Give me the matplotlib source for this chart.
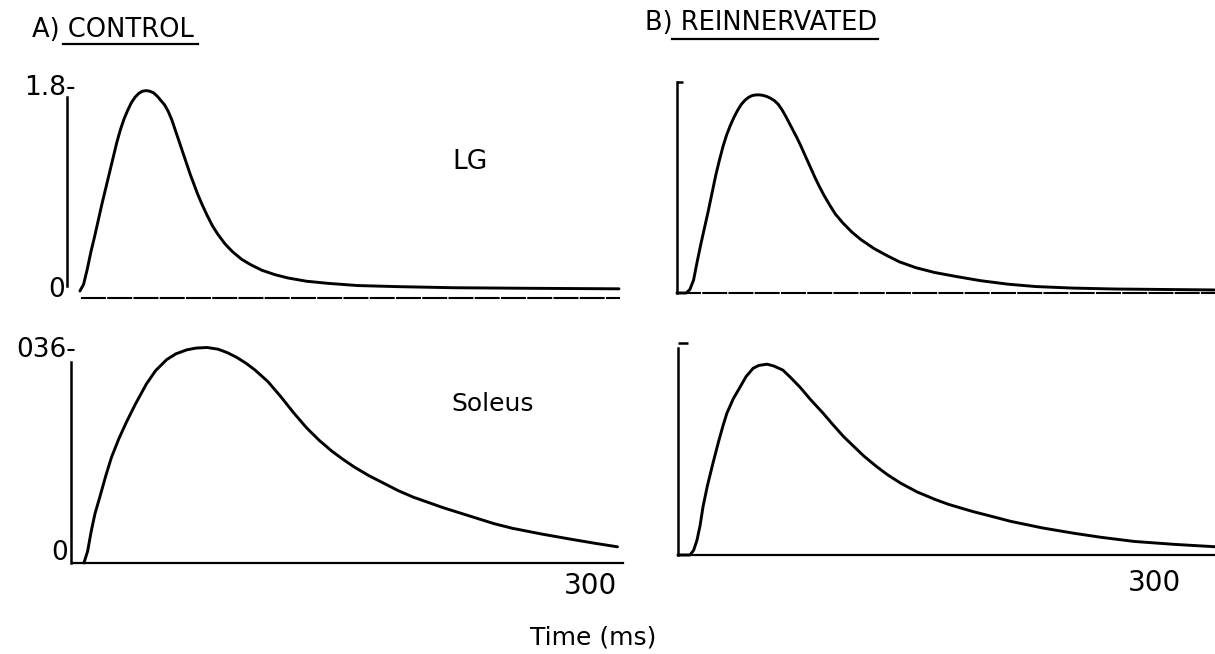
import matplotlib
matplotlib.use("Agg")
import matplotlib.pyplot as plt

# ---------------- data ----------------
# Time in ms, force in the panel's own units (LG bar = 1.8, soleus bar = 0.36)
lg_ctrl_t = [7, 9, 11, 13, 15, 17, 19, 21, 23, 25, 27, 29, 31, 33, 35, 37, 39, 41, 43, 45,
             47, 49, 51, 53, 55, 57, 59, 61, 63, 65, 67, 69, 71, 73, 76, 79, 82, 86, 90, 95,
             100, 106, 113, 120, 130, 142, 158, 180, 210, 250, 300]
lg_ctrl_f = [0.0, 0.06, 0.2, 0.36, 0.5, 0.65, 0.8, 0.94, 1.08, 1.22, 1.36, 1.48, 1.58, 1.66,
             1.73, 1.78, 1.815, 1.835, 1.84, 1.835, 1.82, 1.79, 1.75, 1.71, 1.65, 1.57, 1.47,
             1.37, 1.27, 1.17, 1.07, 0.98, 0.89, 0.81, 0.70, 0.60, 0.52, 0.43, 0.36, 0.29,
             0.24, 0.19, 0.15, 0.12, 0.09, 0.07, 0.05, 0.04, 0.03, 0.025, 0.02]

sol_ctrl_t = [7, 9, 11, 13, 16, 19, 22, 26, 30, 35, 41, 46, 52, 57, 63, 68, 74, 80, 85, 90,
              95, 100, 107, 114, 121, 128, 135, 142, 148, 154, 162, 170, 178, 186, 202, 218,
              230, 240, 256, 272, 285, 297]
sol_ctrl_f = [0.0, 0.02, 0.055, 0.085, 0.118, 0.152, 0.183, 0.215, 0.243, 0.275, 0.31, 0.333,
              0.352, 0.362, 0.369, 0.372, 0.373, 0.370, 0.364, 0.356, 0.346, 0.334, 0.314,
              0.288, 0.26, 0.234, 0.212, 0.193, 0.179, 0.166, 0.151, 0.138, 0.125, 0.114,
              0.096, 0.080, 0.068, 0.060, 0.050, 0.041, 0.034, 0.028]

lg_rein_t = [0, 5, 7, 9, 11, 13, 15, 17, 19, 21, 23, 25, 27, 29, 31, 33, 35, 37, 39, 41, 43,
             45, 47, 49, 51, 53, 55, 57, 59, 61, 63, 65, 67, 69, 71, 73, 75, 77, 80, 83, 86,
             90, 95, 100, 107, 114, 121, 130, 140, 152, 165, 180, 195, 215, 238, 265, 292]
lg_rein_f = [0, 0, 0.03, 0.11, 0.27, 0.42, 0.56, 0.70, 0.85, 1.0, 1.13, 1.25, 1.35, 1.43,
             1.50, 1.56, 1.61, 1.645, 1.67, 1.685, 1.69, 1.69, 1.685, 1.675, 1.66, 1.64, 1.61,
             1.565, 1.51, 1.45, 1.39, 1.33, 1.265, 1.195, 1.125, 1.055, 0.985, 0.92, 0.83,
             0.75, 0.675, 0.6, 0.52, 0.455, 0.38, 0.32, 0.265, 0.215, 0.175, 0.14, 0.105,
             0.075, 0.055, 0.042, 0.034, 0.03, 0.026]

sol_rein_t = [0, 6.5, 8.5, 10.3, 12, 13.6, 16, 19, 22, 24.5, 26.6, 30, 33.7, 37, 40.8, 44,
              48.4, 52, 57, 61, 66.3, 72, 78.8, 84, 90, 95, 101, 108, 114, 121, 130, 140, 147,
              160, 170, 181, 198, 215, 230, 248, 270, 292]
sol_rein_f = [0, 0, 0.008, 0.025, 0.05, 0.082, 0.118, 0.156, 0.192, 0.22, 0.241, 0.265,
              0.285, 0.303, 0.317, 0.322, 0.324, 0.321, 0.314, 0.302, 0.285, 0.264, 0.241,
              0.222, 0.201, 0.186, 0.168, 0.150, 0.136, 0.122, 0.107, 0.094, 0.086, 0.074,
              0.066, 0.057, 0.046, 0.037, 0.03, 0.023, 0.018, 0.014]

lg_scale_label = "1.8-"
sol_scale_label = "036-"
zero_label = "0"
time_tick_label = "300"
xlabel = "Time (ms)"
title_a = "A) CONTROL"
title_b = "B) REINNERVATED"
muscle_labels = ["LG", "Soleus"]

# ---------------- layout ----------------
W, H = 1215, 654
plt.rcParams['font.family'] = ['DejaVu Sans']
fig = plt.figure(figsize=(W / 100, H / 100), dpi=100)
fig.patch.set_facecolor('white')

CURVE_LW = 2.1
AXIS_LW = 1.8


def px_axes(x0, x1, y_zero, y_ref, ref, t_end):
    ax = fig.add_axes([x0 / W, 1 - y_zero / H, (x1 - x0) / W, (y_zero - y_ref) / H])
    ax.set_xlim(0, t_end)
    ax.set_ylim(0, ref)
    ax.patch.set_alpha(0)
    for s in ('top', 'right'):
        ax.spines[s].set_visible(False)
    for s in ('left', 'bottom'):
        ax.spines[s].set_linewidth(AXIS_LW)
        ax.spines[s].set_color('black')
    ax.set_xticks([])
    ax.set_yticks([])
    return ax


def ftext(x, y, s, **kw):
    return fig.text(x / W, 1 - y / H, s, **kw)


def curve(ax, t, f):
    ax.plot(t, f, color='black', lw=CURVE_LW, clip_on=False,
            solid_joinstyle='round', solid_capstyle='round')


FS = 19

# A top: LG control
ax1 = px_axes(67, 619, 291, 95, 1.8, 300)
curve(ax1, lg_ctrl_t, lg_ctrl_f)
ax1.spines['left'].set_bounds(0.05, 1.78)
ax1.spines['bottom'].set_position(('outward', 5))
ax1.spines['bottom'].set_bounds(8, 300)
ax1.spines['bottom'].set_linewidth(1.5)
ax1.spines['bottom'].set_linestyle((0, (11, 1.6)))

# A bottom: soleus control
ax2 = px_axes(71, 623, 563, 355, 0.36, 300)
curve(ax2, sol_ctrl_t, sol_ctrl_f)
ax2.spines['left'].set_bounds(0, 0.348)
ax2.spines['bottom'].set_bounds(1, 300)
ax2.spines['bottom'].set_linewidth(1.6)

# B top: LG reinnervated
tB1 = (1215 - 677) / 1.84
ax3 = px_axes(677, 1215, 293, 82, 1.8, tB1)
curve(ax3, lg_rein_t, lg_rein_f)
ax3.spines['left'].set_bounds(0, 1.8)
ax3.set_yticks([1.8])
ax3.tick_params(axis='y', direction='in', length=4.5, width=AXIS_LW, labelleft=False)
ax3.spines['bottom'].set_linewidth(1.5)
ax3.spines['bottom'].set_linestyle((0, (11, 1.6)))

# B bottom: soleus reinnervated
tB2 = (1215 - 678) / 1.84
ax4 = px_axes(678, 1215, 555, 343, 0.36, tB2)
curve(ax4, sol_rein_t, sol_rein_f)
ax4.spines['left'].set_bounds(0, 0.351)
ax4.set_yticks([0.36])
ax4.tick_params(axis='y', direction='in', length=7, width=AXIS_LW, labelleft=False)
ax4.spines['bottom'].set_linewidth(1.6)

# ---------------- texts ----------------
ftext(32, 30, title_a, fontsize=18.5, va='center', ha='left')
ftext(645, 23, title_b, fontsize=18.5, va='center', ha='left')
fig.add_artist(plt.Line2D([63 / W, 198 / W], [1 - 44 / H, 1 - 44 / H], color='black', lw=1.6))
fig.add_artist(plt.Line2D([672 / W, 878 / W], [1 - 39 / H, 1 - 39 / H], color='black', lw=1.6))

ftext(470, 162, muscle_labels[0], fontsize=19, ha='center', va='center')
ftext(493, 404, muscle_labels[1], fontsize=18, ha='center', va='center')

ftext(76, 88, lg_scale_label, fontsize=FS, ha='right', va='center')
ftext(57, 290, zero_label, fontsize=FS, ha='center', va='center')
ftext(76, 350, sol_scale_label, fontsize=FS, ha='right', va='center')
ftext(60, 553, zero_label, fontsize=FS, ha='center', va='center')

ftext(591, 586, time_tick_label, fontsize=20, ha='center', va='center')
ftext(1154, 583, time_tick_label, fontsize=20, ha='center', va='center')
ftext(593, 638, xlabel, fontsize=18, ha='center', va='center')

fig.savefig('out.png', dpi=100, facecolor='white')
